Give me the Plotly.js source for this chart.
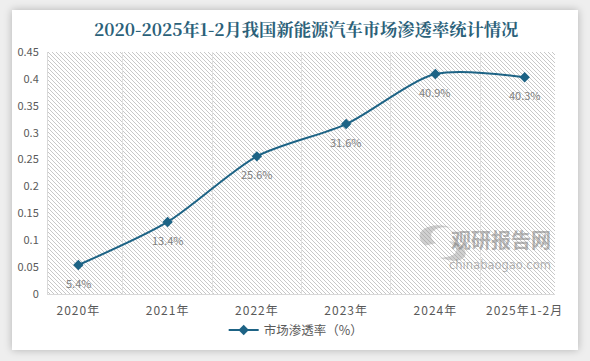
<!DOCTYPE html>
<html><head><meta charset="utf-8">
<script src="https://cdn.plot.ly/plotly-3.0.1.min.js"></script>
<style>
html,body{margin:0;padding:0;background:#eeeeee;width:590px;height:361px;overflow:hidden;}
#card{position:absolute;left:12px;top:10px;width:566px;height:340px;background:#fff;box-shadow:0 0 8px rgba(0,0,0,0.25);}
#hatch{position:absolute;left:48px;top:52px;width:507px;height:242px;
background-image:url("data:image/svg+xml,%3Csvg xmlns='http://www.w3.org/2000/svg' width='4' height='4' shape-rendering='crispEdges'%3E%3Crect x='0' y='0' width='1' height='1' fill='%23c8c8c8'/%3E%3Crect x='1' y='1' width='1' height='1' fill='%23c8c8c8'/%3E%3Crect x='2' y='2' width='1' height='1' fill='%23c8c8c8'/%3E%3Crect x='3' y='3' width='1' height='1' fill='%23c8c8c8'/%3E%3C/svg%3E");
background-size:4px 4px;}
#chart{position:absolute;left:0;top:0;width:590px;height:361px;}
#chart .xtick text{letter-spacing:1px;}
</style></head>
<body>
<div id="card"></div>
<div id="hatch"></div>
<div id="chart"></div>
<script>
const categories = ['2020年','2021年','2022年','2023年','2024年','2025年1-2月'];
const penetration = [0.054, 0.134, 0.256, 0.316, 0.409, 0.403];
const labels = ['5.4%','13.4%','25.6%','31.6%','40.9%','40.3%'];
const yTicks = [0,0.05,0.1,0.15,0.2,0.25,0.3,0.35,0.4,0.45];
const yTickText = ['0','0.05','0.1','0.15','0.2','0.25','0.3','0.35','0.4','0.45'];

const font = 'Noto Sans CJK SC, sans-serif';
const trace = {
  x: categories, y: penetration, type: 'scatter', mode: 'lines+markers',
  name: '市场渗透率（%）',
  line: {color: '#1d6385', width: 2, shape: 'spline', smoothing: 0.8},
  marker: {symbol: 'diamond', size: 8, color: '#1d6385'},
  cliponaxis: false
};
const labelAnns = categories.map((c, i) => ({
  x: c, y: penetration[i], xref: 'x', yref: 'y', text: labels[i], showarrow: false,
  yshift: -18, font: {family: font, size: 11, color: '#7f7f7f'}
}));
const layout = {
  width: 590, height: 361,
  margin: {l: 48, r: 35, t: 52, b: 67, autoexpand: false},
  paper_bgcolor: 'rgba(0,0,0,0)', plot_bgcolor: 'rgba(0,0,0,0)',
  title: {text: '<b>2020-2025年1-2月我国新能源汽车市场渗透率统计情况</b>',
    font: {family: 'Noto Serif CJK SC, Noto Sans CJK SC, serif', size: 17.3, color: '#2b6179'},
    x: 0.519, xanchor: 'center', y: 0.917, yanchor: 'middle'},
  xaxis: {type: 'category', tickson: 'boundaries', showgrid: true, gridcolor: '#e0e0e0', gridwidth: 1,
    ticks: '', showline: true, linecolor: '#d9d9d9', linewidth: 1,
    tickfont: {family: font, size: 12, color: '#595959'}, ticklabelstandoff: 6, fixedrange: true},
  yaxis: {range: [0, 0.45], tickvals: yTicks, ticktext: yTickText, showgrid: false, zeroline: false,
    showline: true, linecolor: '#d9d9d9', ticks: '',
    tickfont: {family: font, size: 11, color: '#595959'}, ticklabelstandoff: 6},
  showlegend: true,
  legend: {orientation: 'h', xref: 'container', yref: 'container', x: 0.502, xanchor: 'center',
    y: 0.085, yanchor: 'middle',
    font: {family: font, size: 12.5, color: '#595959'}},
  shapes: [
    {type: 'path', xref: 'paper', yref: 'paper',
     path: 'M 0.745 0.2 C 0.71 0.26, 0.76 0.31, 0.80 0.27 C 0.77 0.29, 0.74 0.25, 0.765 0.21 Z',
     fillcolor: 'rgba(150,150,150,0.45)', line: {width: 0}},
    {type: 'path', xref: 'paper', yref: 'paper',
     path: 'M 0.79 0.14 C 0.83 0.12, 0.84 0.2, 0.79 0.22 C 0.815 0.19, 0.81 0.15, 0.77 0.15 Z',
     fillcolor: 'rgba(150,150,150,0.45)', line: {width: 0}}
  ],
  annotations: labelAnns.concat([
    {xref: 'paper', yref: 'paper', x: 0.996, xanchor: 'right', y: 0.225, yanchor: 'middle', text: '<b>观研报告网</b>', showarrow: false,
      font: {family: font, size: 20, color: 'rgba(120,120,120,0.55)'}},
    {xref: 'paper', yref: 'paper', x: 0.996, xanchor: 'right', y: 0.118, yanchor: 'middle', text: 'chinabaogao.com', showarrow: false,
      font: {family: 'DejaVu Sans, sans-serif', size: 11.5, color: 'rgba(120,120,120,0.55)'}}
  ])
};
Plotly.newPlot('chart', [trace], layout, {displayModeBar: false, staticPlot: true});
</script>
</body></html>
